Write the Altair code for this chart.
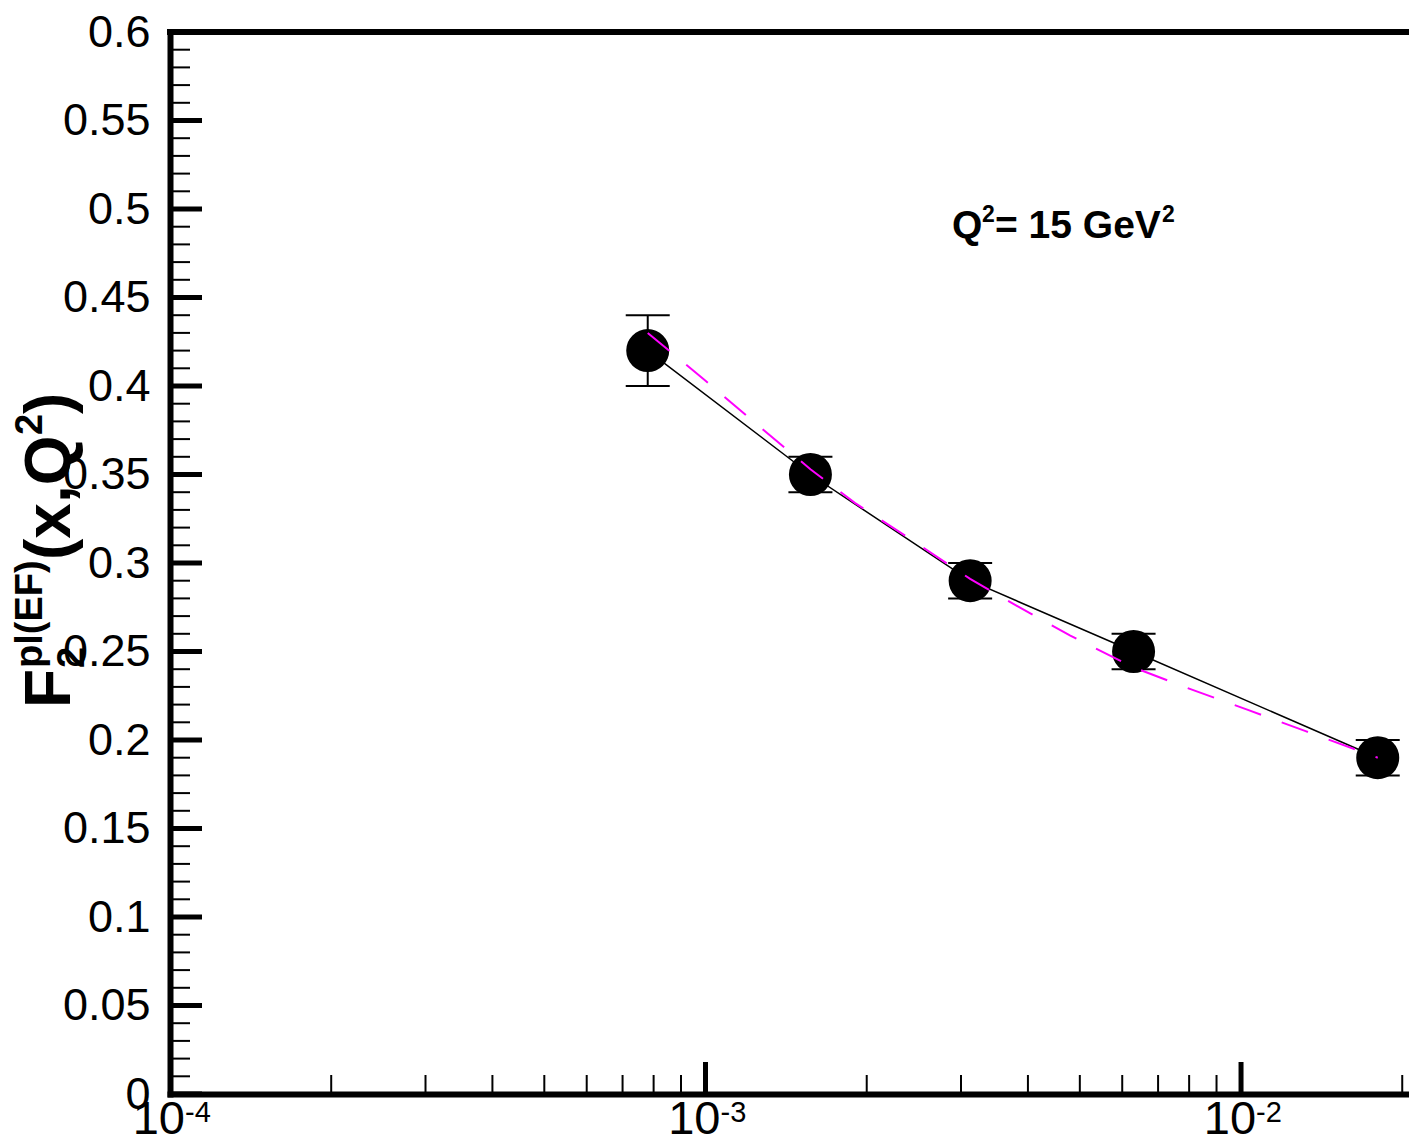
import altair as alt
import pandas as pd

FONT = "Liberation Sans"

# ---- data ----
x_vals = [7.8e-4, 1.57e-3, 3.12e-3, 6.3e-3, 1.8e-2]
f2_vals = [0.42, 0.35, 0.29, 0.25, 0.19]
f2_err = [0.02, 0.01, 0.01, 0.01, 0.01]

fit_x = [7.8e-4, 1.0e-3, 1.25e-3, 1.57e-3, 1.9e-3, 2.4e-3, 3.12e-3,
         3.8e-3, 4.8e-3, 6.3e-3, 8.0e-3, 1.03e-2, 1.32e-2, 1.8e-2]
fit_y = [0.430, 0.403, 0.378, 0.353, 0.334, 0.314, 0.291,
         0.276, 0.259, 0.241, 0.229, 0.217, 0.205, 0.190]

# ---- axis ticks / labels ----
y_major = [0, 0.05, 0.1, 0.15, 0.2, 0.25, 0.3, 0.35, 0.4, 0.45, 0.5, 0.55, 0.6]
y_minor = [round(i / 100, 2) for i in range(1, 60) if i % 5 != 0]
x_major = [1e-3, 1e-2]
x_minor = [2e-4, 3e-4, 4e-4, 5e-4, 6e-4, 7e-4, 8e-4, 9e-4,
           2e-3, 3e-3, 4e-3, 5e-3, 6e-3, 7e-3, 8e-3, 9e-3, 2e-2]
x_label_vals = [1e-4, 1e-3, 1e-2]
x_label_base = ["10", "10", "10"]
x_label_exp = ["-4", "-3", "-2"]

PAD_L, PAD_T, PAD_B = 162, 24, 44
W, H = 1401 - PAD_L, 1062

xscale = alt.Scale(type="log", domain=[1e-4, 0.02059], nice=False)
yscale = alt.Scale(domain=[0, 0.6], nice=False, zero=False)

xaxis = alt.Axis(labels=False, ticks=False, tickSize=0, domain=True, domainWidth=6,
                 domainColor="black", domainCap="square", grid=False, title=None)
yaxis = alt.Axis(values=y_major, format=".2~f", labelFontSize=45, labelFont=FONT,
                 labelColor="black", labelPadding=20, ticks=False, tickSize=0,
                 domain=True, domainWidth=6, domainColor="black", domainCap="square",
                 grid=False, title=None, labelFlush=False, labelOverlap=False)

X = lambda f: alt.X(f, type="quantitative", scale=xscale, axis=xaxis)
Y = lambda f: alt.Y(f, type="quantitative", scale=yscale, axis=yaxis)

pts = pd.DataFrame({"x": x_vals, "y": f2_vals, "e": f2_err})
pts["lo"] = pts["y"] - pts["e"]
pts["hi"] = pts["y"] + pts["e"]
fit = pd.DataFrame({"x": fit_x, "y": fit_y})

one = pd.DataFrame({"t": [""]})

top_line = alt.Chart(one).mark_rule(strokeWidth=6, color="black", strokeCap="square").encode(
    x=alt.value(0), x2=alt.value(W + 10), y=alt.value(0))

ytick_major = alt.Chart(pd.DataFrame({"v": y_major})).mark_rule(strokeWidth=5, color="black").encode(
    y=Y("v"), x=alt.value(0), x2=alt.value(32))
ytick_minor = alt.Chart(pd.DataFrame({"v": y_minor})).mark_rule(strokeWidth=2, color="black").encode(
    y=Y("v"), x=alt.value(0), x2=alt.value(20))
xtick_major = alt.Chart(pd.DataFrame({"v": x_major})).mark_rule(strokeWidth=5, color="black").encode(
    x=X("v"), y=alt.value(H), y2=alt.value(H - 32))
xtick_minor = alt.Chart(pd.DataFrame({"v": x_minor})).mark_rule(strokeWidth=2, color="black").encode(
    x=X("v"), y=alt.value(H), y2=alt.value(H - 19))

xlab_df = pd.DataFrame({"v": x_label_vals, "b": x_label_base, "e": x_label_exp})
xlab_base = alt.Chart(xlab_df).mark_text(font=FONT, fontSize=47, align="right", baseline="alphabetic",
                                         dx=15, color="black").encode(
    x=X("v"), y=alt.value(H + 40), text="b:N")
xlab_exp = alt.Chart(xlab_df).mark_text(font=FONT, fontSize=29, align="left", baseline="alphabetic",
                                        dx=15, color="black").encode(
    x=X("v"), y=alt.value(H + 28), text="e:N")

err_bar = alt.Chart(pts).mark_rule(strokeWidth=2, color="black").encode(x=X("x"), y=Y("lo"), y2="hi")
cap_lo = alt.Chart(pts).mark_tick(orient="horizontal", size=44, thickness=2, color="black", opacity=1).encode(
    x=X("x"), y=Y("lo"))
cap_hi = alt.Chart(pts).mark_tick(orient="horizontal", size=44, thickness=2, color="black", opacity=1).encode(
    x=X("x"), y=Y("hi"))
line = alt.Chart(pts).mark_line(color="black", strokeWidth=1.5).encode(x=X("x"), y=Y("y"))
dots = alt.Chart(pts).mark_circle(size=1850, color="black", opacity=1).encode(x=X("x"), y=Y("y"))
fit_line = alt.Chart(fit).mark_line(color="#FF00FF", strokeWidth=2, strokeDash=[28, 22]).encode(
    x=X("x"), y=Y("y"))


def label(txt, px, py, size, angle=0):
    return alt.Chart(pd.DataFrame({"t": [txt]})).mark_text(
        font=FONT, fontSize=size, fontWeight="bold", angle=angle, align="left",
        baseline="alphabetic", color="black").encode(text="t:N", x=alt.value(px), y=alt.value(py))


# Q^2 = 15 GeV^2 annotation
ann = [
    label("Q", 782, 206, 39),
    label("2", 812, 190, 23),
    label("= 15 GeV", 825, 206, 39),
    label("2", 992, 190, 23),
]

# y-axis title F_2^{pl(EF)}(x,Q^2), rotated
ttl = [
    label("F", -100, 676, 64, 270),
    label("2", -86, 636, 38, 270),
    label("pl(EF)", -128, 636, 38, 270),
    label("(x,Q", -100, 528, 64, 270),
    label("2", -128, 403, 38, 270),
    label(")", -100, 382, 64, 270),
]

chart = alt.layer(
    ytick_minor, ytick_major, xtick_minor, xtick_major, top_line,
    err_bar, cap_lo, cap_hi, line, dots, fit_line,
    xlab_base, xlab_exp, *ann, *ttl
).properties(
    width=W, height=H,
    autosize=alt.AutoSizeParams(type="none"),
    padding={"left": PAD_L, "top": PAD_T, "right": 0, "bottom": PAD_B},
).configure_view(stroke=None)

chart.save("out.html", embed_options={"renderer": "svg", "actions": False})
